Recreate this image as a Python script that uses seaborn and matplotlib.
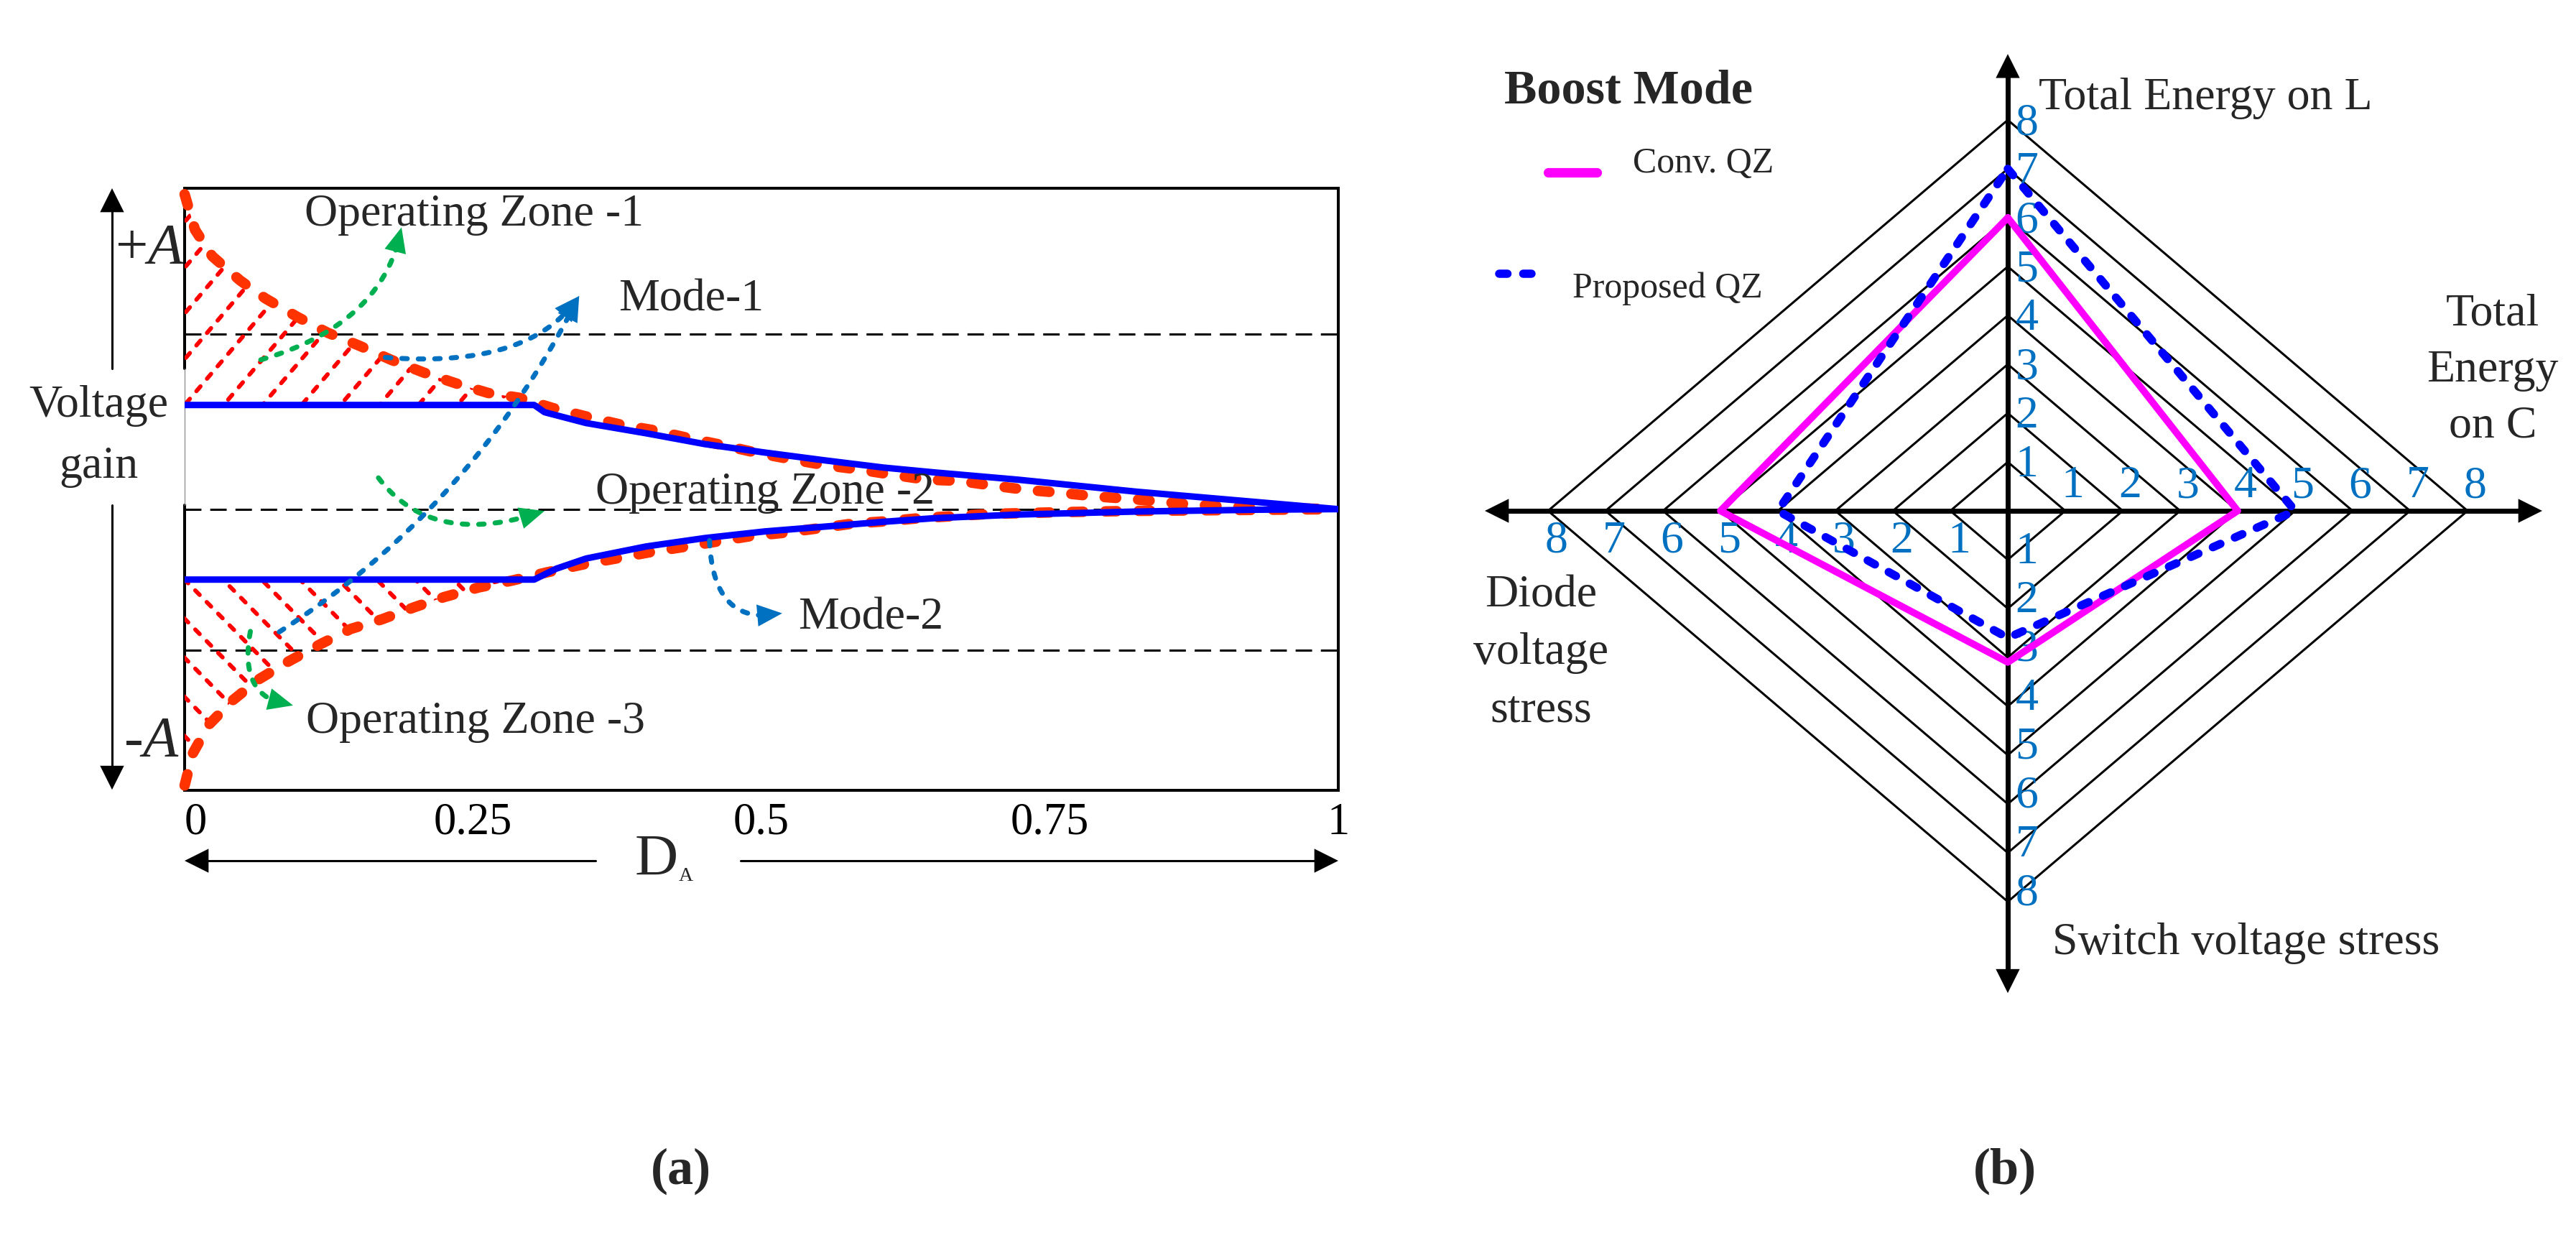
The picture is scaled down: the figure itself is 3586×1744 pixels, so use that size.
import numpy as np
import matplotlib
matplotlib.use("Agg")
import matplotlib.pyplot as plt
from matplotlib.patches import Polygon
import seaborn as sns

sns.set_theme(style="white")
plt.rcParams["font.family"] = ["Liberation Serif", "DejaVu Serif"]
plt.rcParams["mathtext.fontset"] = "custom"
plt.rcParams["mathtext.rm"] = "Liberation Serif"
plt.rcParams["mathtext.it"] = "Liberation Serif:italic"

# ---------------- (a) voltage gain vs D_A ----------------
d_ticks = [0, 0.25, 0.5, 0.75, 1]
d_tick_labels = ["0", "0.25", "0.5", "0.75", "1"]
zone_levels = [0.758, 0.467, 0.233]

# blue curves (Mode-1 upper, Mode-2 lower)
blue_up_d = [0, 0.303, 0.312, 0.348, 0.40, 0.451, 0.503, 0.555, 0.606, 0.65, 0.722, 0.825, 0.928, 1.0]
blue_up_v = [0.64, 0.64, 0.628, 0.61, 0.593, 0.575, 0.561, 0.548, 0.536, 0.528, 0.516, 0.496, 0.479, 0.467]
blue_lo_d = [0, 0.303, 0.322, 0.348, 0.40, 0.451, 0.503, 0.555, 0.606, 0.65, 0.722, 0.825, 0.928, 1.0]
blue_lo_v = [0.35, 0.35, 0.368, 0.385, 0.405, 0.419, 0.43, 0.438, 0.446, 0.452, 0.458, 0.463, 0.466, 0.467]

# red boundary curves of the operating zones
red_up_d = [0.0, 0.009, 0.024, 0.048, 0.07, 0.098, 0.124, 0.152, 0.179, 0.207, 0.235, 0.263, 0.29,
            0.319, 0.35, 0.379, 0.407, 0.437, 0.467, 0.495, 0.525, 0.555, 0.584, 0.614, 0.643, 0.671,
            0.701, 0.73, 0.76, 0.79, 0.82, 0.848, 0.877, 0.907, 0.937, 0.967, 1.0]
red_up_v = [0.99, 0.931, 0.887, 0.847, 0.817, 0.786, 0.76, 0.738, 0.715, 0.694, 0.676, 0.66, 0.652,
            0.635, 0.62, 0.607, 0.598, 0.585, 0.573, 0.561, 0.55, 0.54, 0.533, 0.524, 0.516, 0.514,
            0.506, 0.499, 0.494, 0.488, 0.484, 0.479, 0.474, 0.471, 0.469, 0.468, 0.467]
red_lo_d = [0.0, 0.007, 0.021, 0.042, 0.064, 0.09, 0.118, 0.144, 0.171, 0.199, 0.225, 0.255, 0.283,
            0.314, 0.345, 0.374, 0.402, 0.432, 0.461, 0.49, 0.521, 0.549, 0.579, 0.609, 0.637, 0.697,
            0.76, 0.82, 0.88, 0.94, 1.0]
red_lo_v = [0.008, 0.061, 0.109, 0.15, 0.184, 0.214, 0.243, 0.268, 0.284, 0.304, 0.321, 0.337, 0.348,
            0.362, 0.375, 0.385, 0.395, 0.404, 0.413, 0.422, 0.428, 0.435, 0.443, 0.447, 0.452, 0.459,
            0.462, 0.464, 0.465, 0.466, 0.467]

# ---------------- (b) boost mode radar ----------------
radar_names = ["Total Energy on L", "Total Energy on C", "Switch voltage stress", "Diode voltage stress"]
conv_qz = [6, 4, 3.1, 5]
proposed_qz = [7, 5, 2.6, 4]
rings = [1, 2, 3, 4, 5, 6, 7, 8]

RED = "#FF3300"
HATCH = "#FF0000"
BLUE = "#0000FF"
GREEN = "#00B050"
LBLUE = "#0070C0"
MAG = "#FF00FF"

W, H = 3587, 1744
fig = plt.figure(figsize=(W / 100, H / 100), dpi=100)


def head(a, tip, tail, color, length=2.4, width=1.2):
    a.annotate("", xy=tip, xytext=tail,
               arrowprops=dict(arrowstyle=f"-|>,head_length={length},head_width={width}",
                               mutation_scale=10, color=color, lw=0, shrinkA=0, shrinkB=0),
               annotation_clip=False, zorder=8)


def dotted_arrow(a, p0, pc, p2, color):
    t = np.linspace(0, 1, 200)[:, None]
    pts = (1 - t) ** 2 * np.array(p0) + 2 * (1 - t) * t * np.array(pc) + t ** 2 * np.array(p2)
    px = a.transData.transform(pts)
    seg = np.hypot(*np.diff(px, axis=0).T)
    rem = np.cumsum(seg[::-1])[::-1]
    k = int(np.argmax(rem < 28))
    a.plot(pts[:k + 1, 0], pts[:k + 1, 1], color=color, lw=5, linestyle=(0, (1.1, 2.2)),
           dash_capstyle="round", zorder=7, clip_on=False)
    head(a, p2, tuple(pts[max(k - 5, 0)]), color, length=2.5, width=1.1)


# ======== panel (a) ========
ax = fig.add_axes([257 / W, 1 - 1100 / H, 1606 / W, 838 / H])
ax.set_xlim(0, 1)
ax.set_ylim(0, 1)
for s in ["top", "right", "bottom"]:
    ax.spines[s].set_linewidth(2.9)
    ax.spines[s].set_color("black")
ax.spines["left"].set_visible(False)
ax.plot([0, 0], [0, 0.474], color="black", lw=2.9, clip_on=False)
ax.plot([0, 0], [0.70, 1], color="black", lw=2.9, clip_on=False)
ax.plot([0, 0], [0.474, 0.70], color="#888888", lw=0.9, clip_on=False)

for lv in zone_levels:
    ax.axhline(lv, color="black", lw=2.2, linestyle=(0, (7.5, 4)), zorder=1)


# hatched operating zones
def hatch(a, dd, vv, slope, step, c0):
    patch = Polygon(np.column_stack([dd, vv]), closed=True, transform=a.transData)
    xs = np.array([-0.1, 0.6])
    for c in c0 + step * np.arange(-15, 16):
        ln, = a.plot(xs, slope * xs + c, color=HATCH, lw=4.2, linestyle=(0, (1.5, 2.4)),
                     dash_capstyle="round", zorder=2)
        ln.set_clip_path(patch)


flat_up = blue_up_v[0]
cross_up = np.interp(flat_up, red_up_v[::-1], red_up_d[::-1])
m = np.array(red_up_d) < cross_up
hatch(ax, np.r_[0, np.array(red_up_d)[m], cross_up], np.r_[flat_up, np.array(red_up_v)[m], flat_up],
      2.25, 0.076, flat_up)

flat_lo = blue_lo_v[0]
cross_lo = np.interp(flat_lo, red_lo_v, red_lo_d)
m = np.array(red_lo_d) < cross_lo
hatch(ax, np.r_[0, np.array(red_lo_d)[m], cross_lo], np.r_[flat_lo, np.array(red_lo_v)[m], flat_lo],
      -1.95, 0.065, flat_lo)

for dd, vv in [(red_up_d, red_up_v), (red_lo_d, red_lo_v)]:
    sns.lineplot(x=dd, y=vv, ax=ax, color=RED, lw=10.5, linestyle=(0, (1.1, 2.1)),
                 dash_capstyle="round", sort=False, estimator=None, zorder=4, clip_on=False)
for dd, vv in [(blue_up_d, blue_up_v), (blue_lo_d, blue_lo_v)]:
    sns.lineplot(x=dd, y=vv, ax=ax, color=BLUE, lw=6.5, sort=False, estimator=None, zorder=5)

ax.set_xlim(0, 1)
ax.set_ylim(0, 1)
ax.set_xlabel("")
ax.set_ylabel("")
ax.set_yticks([])
ax.set_xticks(d_ticks)
ax.set_xticklabels(d_tick_labels, fontsize=45)
ax.get_xticklabels()[0].set_horizontalalignment("left")
ax.tick_params(axis="x", length=0, pad=12, colors="black")

# annotation arrows
dotted_arrow(ax, (0.066, 0.715), (0.173, 0.775), (0.188, 0.935), GREEN)
dotted_arrow(ax, (0.168, 0.519), (0.215, 0.40), (0.312, 0.464), GREEN)
dotted_arrow(ax, (0.057, 0.264), (0.046, 0.15), (0.094, 0.141), GREEN)
dotted_arrow(ax, (0.174, 0.719), (0.30, 0.70), (0.342, 0.821), LBLUE)
dotted_arrow(ax, (0.082, 0.263), (0.25, 0.47), (0.342, 0.821), LBLUE)
dotted_arrow(ax, (0.455, 0.415), (0.458, 0.27), (0.518, 0.294), LBLUE)

fs = 46
ax.text(0.104, 0.938, "Operating Zone -1", fontsize=fs, va="baseline", zorder=9)
ax.text(0.376, 0.797, "Mode-1", fontsize=fs, va="baseline", zorder=9)
ax.text(0.356, 0.476, "Operating Zone -2", fontsize=fs, va="baseline", zorder=9)
ax.text(0.532, 0.268, "Mode-2", fontsize=fs, va="baseline", zorder=9)
ax.text(0.105, 0.095, "Operating Zone -3", fontsize=fs, va="baseline", zorder=9)

# voltage gain axis arrow
ax.plot([-0.0629, -0.0629], [0.70, 0.98], color="black", lw=2.2, clip_on=False)
head(ax, (-0.0629, 1.0), (-0.0629, 0.9), "black")
ax.plot([-0.0629, -0.0629], [0.474, 0.02], color="black", lw=2.2, clip_on=False)
head(ax, (-0.0629, 0.001), (-0.0629, 0.1), "black")
ax.text(-0.0747, 0.62, "Voltage", fontsize=fs, ha="center", va="baseline")
ax.text(-0.0747, 0.519, "gain", fontsize=fs, ha="center", va="baseline")
ax.text(-0.0604, 0.875, r"+$\mathit{A}$", fontsize=58, ha="left", va="baseline")
ax.text(-0.053, 0.056, r"-$\mathit{A}$", fontsize=58, ha="left", va="baseline")

# D_A double arrow
ax.plot([0.356, 0.012], [-0.117, -0.117], color="black", lw=2.2, clip_on=False)
head(ax, (0.0, -0.117), (0.1, -0.117), "black")
ax.plot([0.482, 0.988], [-0.117, -0.117], color="black", lw=2.2, clip_on=False)
head(ax, (1.0, -0.117), (0.9, -0.117), "black")
ax.text(0.390, -0.117, "D", fontsize=60, ha="left", va="center")
ax.text(0.428, -0.150, "A", fontsize=20, ha="left", va="baseline")

fig.text(948 / W, 1 - 1630 / H, "(a)", fontsize=52, fontweight="bold", ha="center", va="center")

# ======== panel (b) ========
CX, CY, UX, UY = 2795, 711, 80, 68
L0, R0, T0, B0 = 1960, 3587, 0, 1500
ax2 = fig.add_axes([L0 / W, 1 - B0 / H, (R0 - L0) / W, (B0 - T0) / H])

for r in rings:
    ax2.plot([r, 0, -r, 0, r], [0, r, 0, -r, 0], color="black", lw=2.2, zorder=1)

dirs = [(0, 1), (1, 0), (0, -1), (-1, 0)]


def ring_xy(vals):
    xs = [v * dx for v, (dx, dy) in zip(vals, dirs)]
    ys = [v * dy for v, (dx, dy) in zip(vals, dirs)]
    return xs + xs[:1], ys + ys[:1]


cx, cy = ring_xy(conv_qz)
sns.lineplot(x=cx, y=cy, ax=ax2, color=MAG, lw=7, sort=False, estimator=None, zorder=4)
px_, py_ = ring_xy(proposed_qz)
sns.lineplot(x=px_, y=py_, ax=ax2, color=BLUE, lw=8.3, linestyle=(0, (1.0, 1.9)),
             dash_capstyle="round", sort=False, estimator=None, zorder=5)

ax2.set_xlim((L0 - CX) / UX, (R0 - CX) / UX)
ax2.set_ylim((CY - B0) / UY, (CY - T0) / UY)
ax2.set_axis_off()

# axis arrows
ax2.plot([-8.85, 9.05], [0, 0], color="black", lw=5, zorder=3, solid_capstyle="butt")
ax2.plot([0, 0], [-9.6, 9.1], color="black", lw=5, zorder=3, solid_capstyle="butt")
head(ax2, (9.3, 0), (8.0, 0), "black")
head(ax2, (-9.1, 0), (-8.0, 0), "black")
head(ax2, (0, 9.35), (0, 8.0), "black")
head(ax2, (0, -9.87), (0, -8.5), "black")

for r in rings:
    ax2.text(0.13, r - 0.08, str(r), color=LBLUE, fontsize=fs, ha="left", va="center", zorder=2)
    ax2.text(0.13, -r + 0.15, str(r), color=LBLUE, fontsize=fs, ha="left", va="center", zorder=2)
    ax2.text(r + 0.13, 0.07, str(r), color=LBLUE, fontsize=fs, ha="center", va="bottom", zorder=2)
    ax2.text(-r + 0.15, -0.2, str(r), color=LBLUE, fontsize=fs, ha="center", va="top", zorder=2)

ax2.text(0.54, 8.22, radar_names[0], fontsize=fs, ha="left", va="baseline")
for i, w in enumerate(["Total", "Energy", "on C"]):
    ax2.text(8.44, 3.8 - i * 78 / UY, w, fontsize=fs, ha="center", va="baseline")
ax2.text(0.775, -9.08, radar_names[2], fontsize=fs, ha="left", va="baseline")
for i, w in enumerate(["Diode", "voltage", "stress"]):
    ax2.text(-8.125, -1.96 - i * 80 / UY, w, fontsize=fs, ha="center", va="baseline")

# legend
ax2.text(-8.76, 8.34, "Boost Mode", fontsize=49, fontweight="bold", ha="left", va="baseline")
ax2.plot([-8.0, -7.15], [6.92, 6.92], color=MAG, lw=9.5, solid_capstyle="round")
ax2.text(-6.525, 6.93, "Conv. QZ", fontsize=36, ha="left", va="baseline")
ax2.plot([-8.85, -8.12], [4.85, 4.85], color=BLUE, lw=8.3, linestyle=(0, (1.0, 1.9)),
         dash_capstyle="round")
ax2.text(-7.575, 4.37, "Proposed QZ", fontsize=36, ha="left", va="baseline")

fig.text(2791 / W, 1 - 1630 / H, "(b)", fontsize=52, fontweight="bold", ha="center", va="center")

fig.savefig("out.png", dpi=100, facecolor="white")
